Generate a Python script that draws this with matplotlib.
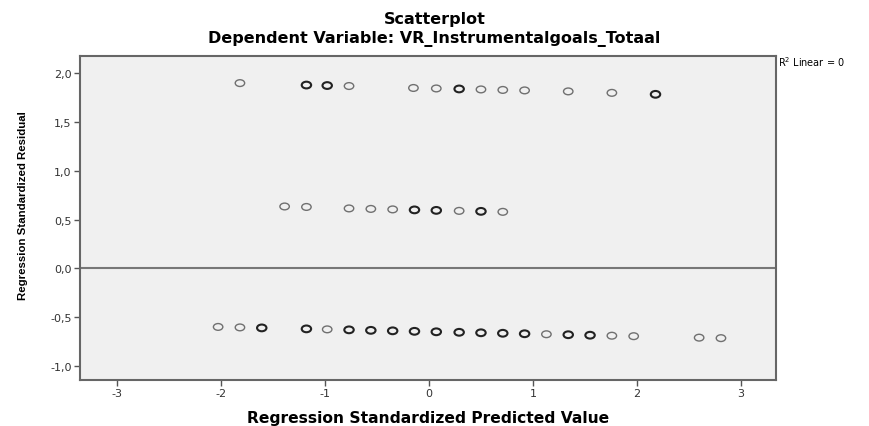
import matplotlib.pyplot as plt
from matplotlib.ticker import FuncFormatter
from matplotlib.path import Path
from matplotlib.transforms import Affine2D

plt.rcParams['axes.unicode_minus'] = False

# predicted (standardized) vs residual (standardized), three response levels
pred_high = [-1.82, -1.18, -0.98, -0.77, -0.15, 0.07, 0.29, 0.50, 0.71, 0.92, 1.34, 1.76, 2.18]
resid_high = [1.90, 1.88, 1.875, 1.87, 1.85, 1.845, 1.84, 1.835, 1.83, 1.825, 1.815, 1.80, 1.785]
count_high = [1, 2, 2, 1, 1, 1, 2, 1, 1, 1, 1, 1, 2]

pred_mid = [-1.39, -1.18, -0.77, -0.56, -0.35, -0.14, 0.07, 0.29, 0.50, 0.71]
resid_mid = [0.635, 0.63, 0.615, 0.61, 0.605, 0.60, 0.595, 0.59, 0.585, 0.58]
count_mid = [1, 1, 1, 1, 1, 2, 2, 1, 2, 1]

pred_low = [-2.03, -1.82, -1.61, -1.18, -0.98, -0.77, -0.56, -0.35, -0.14, 0.07, 0.29,
            0.50, 0.71, 0.92, 1.13, 1.34, 1.55, 1.76, 1.97, 2.60, 2.81]
resid_low = [-0.60, -0.605, -0.61, -0.62, -0.625, -0.63, -0.635, -0.64, -0.645, -0.65, -0.655,
             -0.66, -0.665, -0.67, -0.675, -0.68, -0.685, -0.69, -0.695, -0.71, -0.715]
count_low = [1, 1, 2, 2, 1, 2, 2, 2, 2, 2, 2, 2, 2, 2, 1, 2, 2, 1, 1, 1, 1]

x_ticks = [-3, -2, -1, 0, 1, 2, 3]
y_ticks = [-1.0, -0.5, 0.0, 0.5, 1.0, 1.5, 2.0]

# the original export is stretched sideways, so the markers are flat ellipses
ellipse = Path.unit_circle().transformed(Affine2D().scale(1.4, 1.0))

fig = plt.figure(figsize=(8.69, 4.27), dpi=100)
ax = fig.add_axes([0.092, 0.108, 0.801, 0.759])
ax.set_facecolor('#f0f0f0')

for px, ry, cnt in [(pred_high, resid_high, count_high),
                    (pred_mid, resid_mid, count_mid),
                    (pred_low, resid_low, count_low)]:
    edge = ['#222222' if c > 1 else '#707070' for c in cnt]
    lw = [1.5 if c > 1 else 1.0 for c in cnt]
    ax.scatter(px, ry, s=46, marker=ellipse, facecolors='none', edgecolors=edge,
               linewidths=lw, zorder=3)

ax.axhline(0, color='#777777', lw=1.5, zorder=2)

ax.set_xlim(-3.36, 3.34)
ax.set_ylim(-1.143, 2.18)
ax.set_xticks(x_ticks)
ax.set_yticks(y_ticks)
ax.yaxis.set_major_formatter(FuncFormatter(lambda v, p: f"{v:.1f}".replace('.', ',')))
ax.tick_params(direction='out', length=4, width=1, color='#555555', labelsize=8, pad=2,
               labelcolor='#333333')
for s in ax.spines.values():
    s.set_color('#666666')
    s.set_linewidth(1.5)

ax.set_xlabel('Regression Standardized Predicted Value', fontsize=11.2,
              fontweight='bold', family='DejaVu Sans')
ax.xaxis.set_label_coords(0.5, -0.092)
ax.set_ylabel('Regression Standardized Residual', fontsize=8.2,
              fontweight='bold', family='Liberation Sans')
ax.yaxis.set_label_coords(-0.075, 0.54)

fig.text(0.5, 0.955, 'Scatterplot', ha='center', va='center', fontsize=11.5,
         fontweight='bold', family='DejaVu Sans')
fig.text(0.5, 0.909, 'Dependent Variable: VR_Instrumentalgoals_Totaal', ha='center',
         va='center', fontsize=11.5, fontweight='bold', family='DejaVu Sans')
fig.text(0.895, 0.855, 'R$^2$ Linear = 0', ha='left', va='center', fontsize=7,
         family='DejaVu Sans')

plt.savefig('out.png', dpi=100)
plt.close()
